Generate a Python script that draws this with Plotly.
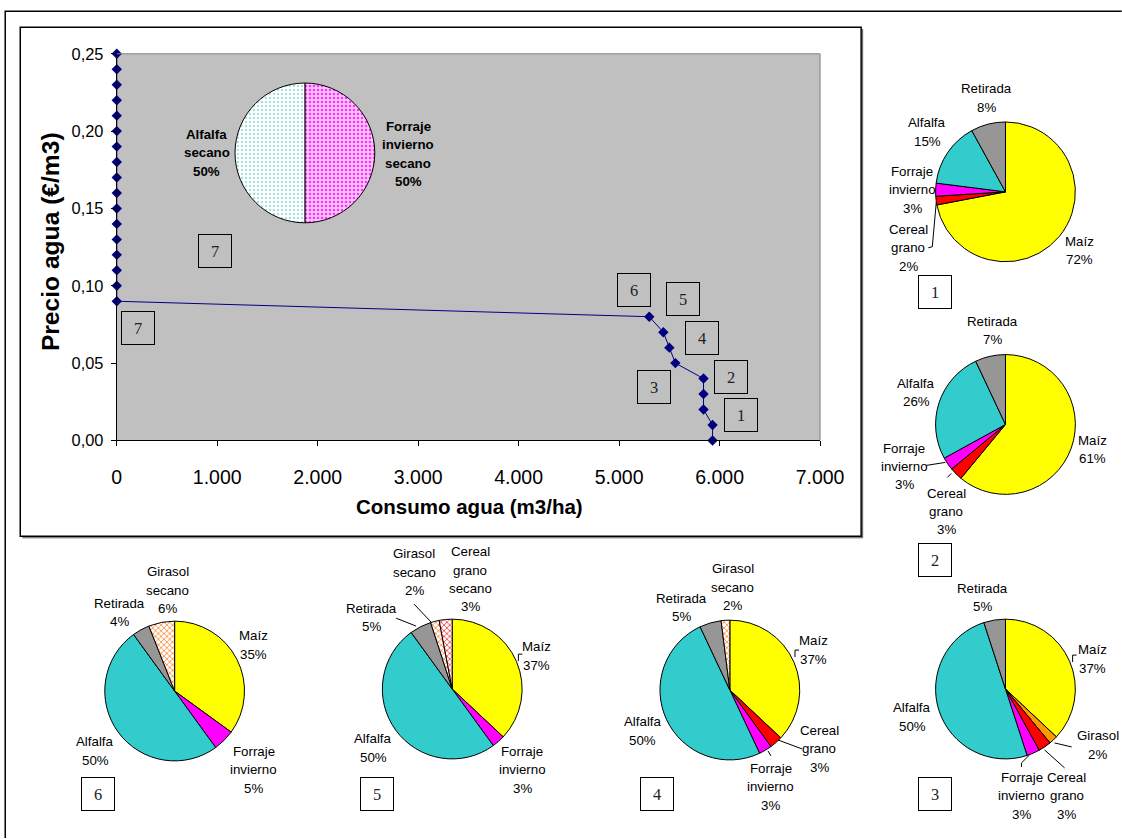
import plotly.graph_objects as go

# The page is shown in a ~1155x856 viewport with an 8px body margin and
# captured at 1122x839; layout positions below are given in final-image pixels.
VIEW_W, VIEW_H = 1155, 856
OUT_W, OUT_H = 1122, 839
OFF = 8
SX, SY = VIEW_W / OUT_W, VIEW_H / OUT_H
FS = (SX + SY) / 2          # text / size scale
W, H = VIEW_W - 2 * OFF - 2, VIEW_H - 2 * OFF - 2

# ---- main curve: water price vs. water use ----
precio_agua = [0.25, 0.24, 0.23, 0.22, 0.21, 0.20, 0.19, 0.18, 0.17, 0.16, 0.15,
               0.14, 0.13, 0.12, 0.11, 0.10, 0.09, 0.08, 0.07, 0.06, 0.05, 0.04,
               0.03, 0.02, 0.01, 0.00]
consumo_agua = [0, 0, 0, 0, 0, 0, 0, 0, 0, 0, 0, 0, 0, 0, 0, 0, 0,
                5300, 5440, 5500, 5560, 5840, 5840, 5840, 5930, 5930]

x_ticks = [0, 1000, 2000, 3000, 4000, 5000, 6000, 7000]
y_ticks = [0.00, 0.05, 0.10, 0.15, 0.20, 0.25]

# ---- crop distribution for each scenario (% of area) ----
esc1_cultivos = ["Maíz", "Cereal grano", "Forraje invierno", "Alfalfa", "Retirada"]
esc1_pct = [72, 2, 3, 15, 8]

esc2_cultivos = ["Maíz", "Cereal grano", "Forraje invierno", "Alfalfa", "Retirada"]
esc2_pct = [61, 3, 3, 26, 7]

esc3_cultivos = ["Maíz", "Girasol", "Cereal grano", "Forraje invierno", "Alfalfa", "Retirada"]
esc3_pct = [37, 2, 3, 3, 50, 5]

esc4_cultivos = ["Maíz", "Cereal grano", "Forraje invierno", "Alfalfa", "Retirada", "Girasol secano"]
esc4_pct = [37, 3, 3, 50, 5, 2]

esc5_cultivos = ["Maíz", "Forraje invierno", "Alfalfa", "Retirada", "Girasol secano",
                 "Cereal grano secano"]
esc5_pct = [37, 3, 50, 5, 2, 3]

esc6_cultivos = ["Maíz", "Forraje invierno", "Alfalfa", "Retirada", "Girasol secano"]
esc6_pct = [35, 5, 50, 4, 6]

esc7_cultivos = ["Forraje invierno secano", "Alfalfa secano"]
esc7_pct = [50, 50]

escenarios = ["1", "2", "3", "4", "5", "6", "7"]

# ---- styles per crop: (colour, pattern shape, pattern fg, pattern bg, solidity) ----
estilo = {
    "Maíz": ("#FFFF00", "", None, None, 0.3),
    "Cereal grano": ("#FF0000", "", None, None, 0.3),
    "Forraje invierno": ("#FF00FF", "", None, None, 0.3),
    "Alfalfa": ("#33CCCC", "", None, None, 0.3),
    "Retirada": ("#969696", "", None, None, 0.3),
    "Girasol": ("#FF9900", "", None, None, 0.3),
    "Girasol secano": ("#FFFFFF", "x", "#FF6600", "#FFFFFF", 0.3),
    "Cereal grano secano": ("#FFFFFF", "x", "#FF0000", "#FFFFFF", 0.3),
    "Alfalfa secano": ("#FFFFFF", ".", "#7FDADA", "#FFFFFF", 0.2),
    "Forraje invierno secano": ("#FF99FF", ".", "#FF33FF", "#FFC6FF", 0.35),
}


def px(x):
    return (x * SX - OFF) / W


def py(y):
    return 1 - (y * SY - OFF) / H


def fsz(s):
    return round(s * FS, 1)


fig = go.Figure()

fig.add_trace(go.Scatter(
    x=consumo_agua, y=precio_agua, mode="lines+markers",
    line=dict(color="#000080", width=1),
    marker=dict(symbol="diamond", size=8, color="#000080"),
    cliponaxis=False, showlegend=False, hoverinfo="x+y",
))

# pie centre and label centres (image px) for each slice
pies = [
    (esc1_cultivos, esc1_pct, (1006, 191),
     [(1080, 250), (909, 247), (913, 189), (928, 131), (987, 97)], False),
    (esc2_cultivos, esc2_pct, (1006, 424),
     [(1093, 449), (947, 511), (905, 466), (917, 392), (993, 330)], False),
    (esc3_cultivos, esc3_pct, (1006, 689),
     [(1093, 659), (1098, 745), (1067, 796), (1022, 796), (913, 717), (983, 597)], False),
    (esc4_cultivos, esc4_pct, (731, 690),
     [(814, 650), (820, 749), (772, 787), (644, 731), (683, 607), (734, 587)], False),
    (esc5_cultivos, esc5_pct, (454, 689),
     [(538, 656), (524, 770), (375, 748), (373, 617), (416, 572), (472, 579)], False),
    (esc6_cultivos, esc6_pct, (177, 691),
     [(256, 645), (256, 770), (98, 751), (122, 612), (170, 590)], False),
    (esc7_cultivos, esc7_pct, (307, 152),
     [(410, 153), (209, 152)], True),
]
R = 70
LINE_STEP = 18.3

annotations = []
for cultivos, pct, (cx, cy), lab_pos, negrita in pies:
    colors = [estilo[c][0] for c in cultivos]
    shapes_p = [estilo[c][1] for c in cultivos]
    fg = [estilo[c][2] or estilo[c][0] for c in cultivos]
    bg = [estilo[c][3] or estilo[c][0] for c in cultivos]
    sol = [estilo[c][4] for c in cultivos]
    fig.add_trace(go.Pie(
        labels=cultivos, values=pct, sort=False, direction="clockwise", rotation=0,
        textinfo="none", showlegend=False,
        marker=dict(colors=colors, line=dict(color="black", width=1),
                    pattern=dict(shape=shapes_p, fgcolor=fg, bgcolor=bg,
                                 size=4, solidity=sol)),
        domain=dict(x=[px(cx - R), px(cx + R)], y=[py(cy + R), py(cy - R)]),
    ))
    for c, v, (lx, ly) in zip(cultivos, pct, lab_pos):
        lines = c.split(" ") + [f"{v}%"]
        y0 = ly - (len(lines) - 1) / 2 * LINE_STEP
        for i, t in enumerate(lines):
            txt = f"<b>{t}</b>" if negrita else t
            annotations.append(dict(
                x=px(lx), y=py(y0 + i * LINE_STEP), xref="paper", yref="paper",
                text=txt, showarrow=False, xanchor="center", yanchor="middle",
                font=dict(family="Liberation Sans, Arial", size=fsz(13), color="black"),
            ))

# scenario number boxes
cajas = [(742, 415), (732, 376), (655, 386), (703, 337), (684, 298), (635, 289), (217, 250),
         (936, 291), (936, 560), (936, 794), (658, 794), (379, 794), (101, 794), (140, 327)]
cajas_txt = ["1", "2", "3", "4", "5", "6", "7",
             escenarios[0], escenarios[1], escenarios[2], escenarios[3],
             escenarios[4], escenarios[5], escenarios[6]]
for t, (bx, by) in zip(cajas_txt, cajas):
    annotations.append(dict(
        x=px(bx), y=py(by), xref="paper", yref="paper", text=t, showarrow=False,
        xanchor="center", yanchor="middle", width=round(31 * SX), height=round(31 * SY),
        borderpad=0, bordercolor="black", borderwidth=1,
        font=dict(family="Liberation Serif, Times New Roman", size=fsz(16), color="#222222"),
    ))

# axis titles
annotations.append(dict(
    x=px(471), y=py(506), xref="paper", yref="paper", text="<b>Consumo agua (m3/ha)</b>",
    showarrow=False, xanchor="center", yanchor="middle",
    font=dict(family="Liberation Sans, Arial", size=fsz(20), color="black"),
))
annotations.append(dict(
    x=px(53), y=py(241), xref="paper", yref="paper", text="<b>Precio agua (€/m3)</b>",
    showarrow=False, xanchor="center", yanchor="middle", textangle=-90,
    font=dict(family="Liberation Sans, Arial", size=fsz(24), color="black"),
))


def seg(points, width=1, color="black"):
    path = "M " + " L ".join(f"{px(x):.5f},{py(y):.5f}" for x, y in points)
    return dict(type="path", path=path, xref="paper", yref="paper",
                line=dict(color=color, width=width))


shapes = [
    # page frame
    seg([(8.0, 839), (8.0, 10), (1122, 10)], width=1.5),
    # chart frame with shadow
    dict(type="rect", xref="paper", yref="paper", x0=px(23), x1=px(862), y0=py(536), y1=py(26),
         line=dict(color="black", width=1.5)),
    seg([(863.5, 28), (863.5, 537.5), (25, 537.5)], width=1, color="#555555"),
    # plot area top/right edges
    seg([(119.3, 52.7), (821, 52.7), (821, 440)], width=1, color="#808080"),
    # leader lines
    seg([(937, 201), (933, 246), (929, 247)]),
    seg([(927, 465), (946, 462)]),
    seg([(948, 477), (952, 473)]),
    seg([(1055, 743), (1072, 747)]),
    seg([(1045, 750), (1065, 768)]),
    seg([(1030, 755), (1022, 763), (1022, 767)]),
    seg([(1077, 655), (1073, 655), (1073, 662)]),
    seg([(779, 740), (803, 749)]),
    seg([(769, 751), (772, 756)]),
    seg([(800, 650), (796, 650), (796, 657)]),
    seg([(398, 618), (418, 626)]),
    seg([(416, 604), (433, 622)]),
    seg([(524, 654), (520, 654), (520, 661)]),
]

fig.update_layout(
    width=W, height=H, margin=dict(l=0, r=0, t=0, b=0),
    paper_bgcolor="white", plot_bgcolor="#C0C0C0",
    separators=",.",
    xaxis=dict(domain=[px(119.3), px(821)], range=[0, 7000], tickvals=x_ticks,
               tickformat=",.0f", showgrid=False, zeroline=False, showline=True,
               linecolor="black", linewidth=1, ticks="outside", ticklen=5,
               tickcolor="black", ticklabelstandoff=14,
               tickfont=dict(family="Liberation Sans, Arial", size=fsz(19), color="black")),
    yaxis=dict(domain=[py(440), py(52.7)], range=[0, 0.25], tickvals=y_ticks,
               tickformat=".2f", showgrid=False, zeroline=False, showline=True,
               linecolor="black", linewidth=1, ticks="outside", ticklen=5,
               tickcolor="black", ticklabelstandoff=4,
               tickfont=dict(family="Liberation Sans, Arial", size=fsz(16), color="black")),
    annotations=annotations, shapes=shapes,
)

fig.write_html("out.html")
